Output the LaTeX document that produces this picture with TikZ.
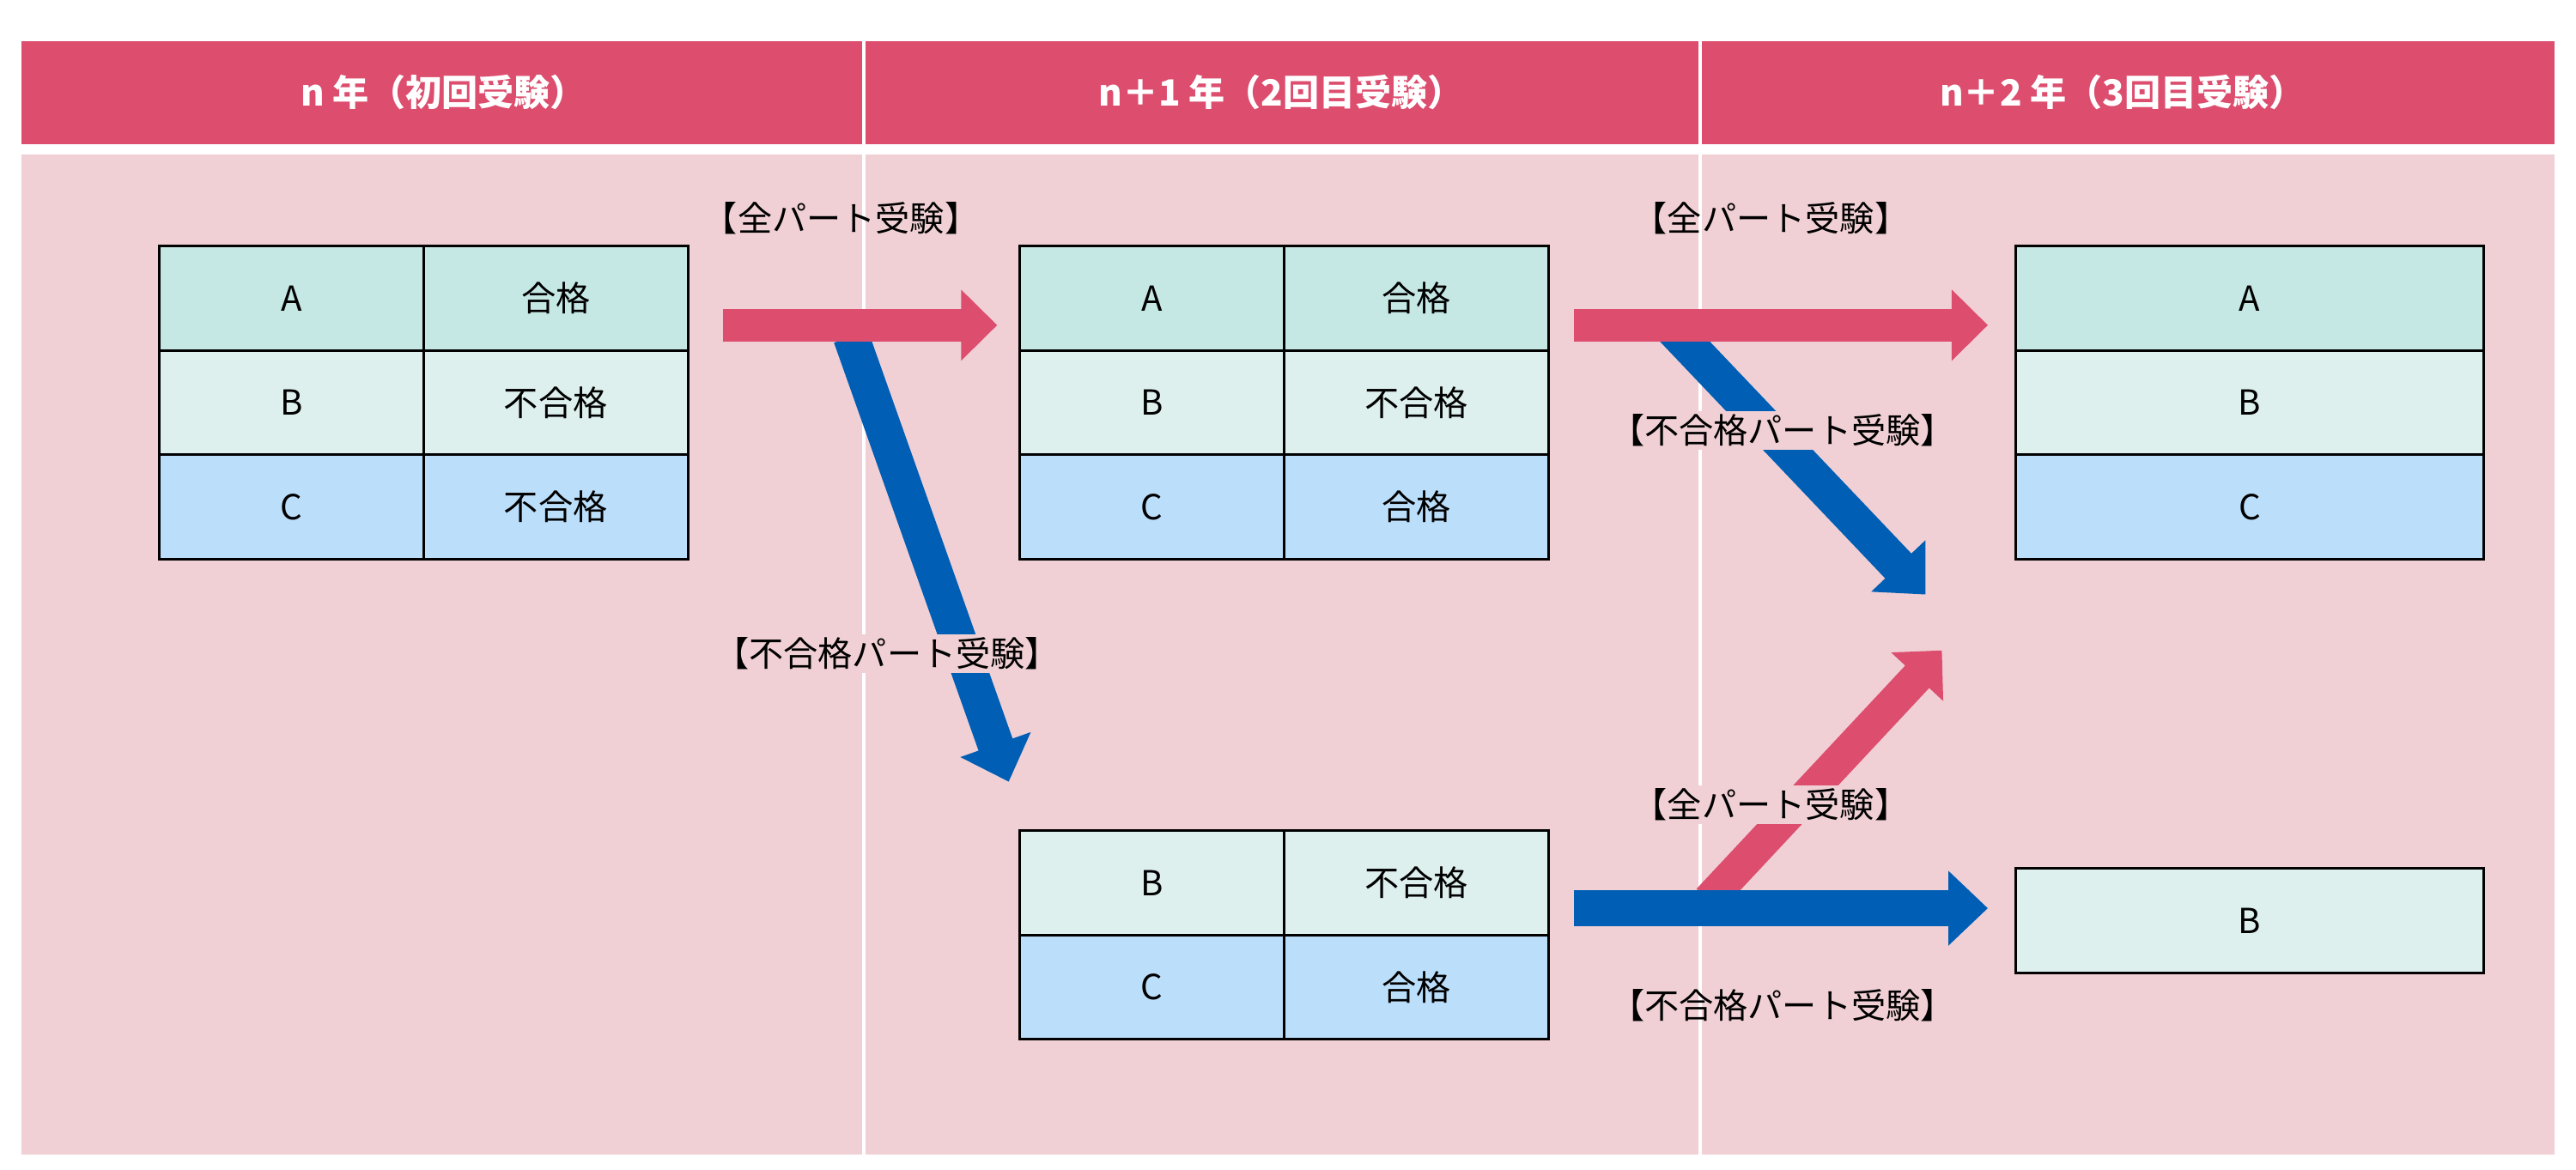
\documentclass[tikz,border=0pt]{standalone}
\usepackage{fontspec}
\setmainfont{Noto Sans CJK JP}
\usetikzlibrary{arrows.meta}
\definecolor{hd}{HTML}{DC4D6E}
\definecolor{bg}{HTML}{F0D0D5}
\definecolor{ca}{HTML}{C5E8E5}
\definecolor{cb}{HTML}{DDF0EE}
\definecolor{cc}{HTML}{BBDEFB}
\definecolor{ar}{HTML}{DC4D6E}
\definecolor{ab}{HTML}{005EB4}
\begin{document}
\begin{tikzpicture}[x=1pt,y=-1pt,
  cell/.style={draw=black,line width=1.6pt,anchor=north west,inner sep=0,minimum height=63.5pt,font=\fontsize{21}{24}\selectfont},
  hdr/.style={text=white,font=\bfseries\fontsize{22}{26}\selectfont},
  lbl/.style={fill=bg,inner sep=2pt,font=\fontsize{21}{24}\selectfont},
  pa/.style={draw=ar,line width=20pt,-{Triangle[width=42pt,length=22pt]}},
  ba/.style={draw=ab,line width=22pt,-{Triangle[width=44pt,length=24pt]}}]
\useasboundingbox (0,0) rectangle (1568,712);
\fill[white] (0,0) rectangle (1568,712);
\fill[hd] (13,25) rectangle (1555,88);
\fill[bg] (13,94) rectangle (1555,703);
\draw[white,line width=2pt] (526,25) -- (526,703);
\draw[white,line width=2pt] (1035,25) -- (1035,703);
\node[hdr] (h1) at (270,56) {n 年（初回受験）};
\node[hdr] (h2) at (780,56) {n＋1 年（2回目受験）};
\node[hdr] (h3) at (1292,56) {n＋2 年（3回目受験）};
% table 1
\node[cell,fill=ca,minimum width=161pt] (a1) at (96,149) {A};
\node[cell,fill=ca,minimum width=161pt] (a2) at (257,149) {合格};
\node[cell,fill=cb,minimum width=161pt] (b1) at (96,212.5) {B};
\node[cell,fill=cb,minimum width=161pt] (b2) at (257,212.5) {不合格};
\node[cell,fill=cc,minimum width=161pt] (c1) at (96,276) {C};
\node[cell,fill=cc,minimum width=161pt] (c2) at (257,276) {不合格};
% table 2
\node[cell,fill=ca,minimum width=161pt] (d1) at (620,149) {A};
\node[cell,fill=ca,minimum width=161pt] (d2) at (781,149) {合格};
\node[cell,fill=cb,minimum width=161pt] (e1) at (620,212.5) {B};
\node[cell,fill=cb,minimum width=161pt] (e2) at (781,212.5) {不合格};
\node[cell,fill=cc,minimum width=161pt] (f1) at (620,276) {C};
\node[cell,fill=cc,minimum width=161pt] (f2) at (781,276) {合格};
% table 3
\node[cell,fill=cb,minimum width=161pt] (g1) at (620,505) {B};
\node[cell,fill=cb,minimum width=161pt] (g2) at (781,505) {不合格};
\node[cell,fill=cc,minimum width=161pt] (k1) at (620,568.5) {C};
\node[cell,fill=cc,minimum width=161pt] (k2) at (781,568.5) {合格};
% table 4
\node[cell,fill=ca,minimum width=285pt] (m1) at (1226,149) {A};
\node[cell,fill=cb,minimum width=285pt] (m2) at (1226,212.5) {B};
\node[cell,fill=cc,minimum width=285pt] (m3) at (1226,276) {C};
% table 5
\node[cell,fill=cb,minimum width=285pt] (n1) at (1226,528) {B};
% arrow endpoints
\coordinate (p1s) at (440,198); \coordinate (p1e) at (607,198);
\coordinate (b1s) at (518,205); \coordinate (b1e) at (614,476);
\coordinate (p2s) at (958,198); \coordinate (p2e) at (1210,198);
\coordinate (b2s) at (1018,200); \coordinate (b2e) at (1172,362);
\coordinate (p3s) at (1040,548); \coordinate (p3e) at (1182,396);
\coordinate (b3s) at (958,553); \coordinate (b3e) at (1210,553);
\draw[ba] (b1s) -- (b1e);
\draw[pa] (p1s) -- (p1e);
\draw[ba] (b2s) -- (b2e);
\draw[pa] (p2s) -- (p2e);
\draw[pa] (p3s) -- (p3e);
\draw[ba] (b3s) -- (b3e);
\node[font=\fontsize{21}{24}\selectfont] (l1) at (512,133) {【全パート受験】};
\node[lbl] (l2) at (540,398) {【不合格パート受験】};
\node[font=\fontsize{21}{24}\selectfont] (l3) at (1078,133) {【全パート受験】};
\node[lbl] (l4) at (1085,262) {【不合格パート受験】};
\node[lbl] (l5) at (1078,490) {【全パート受験】};
\node[font=\fontsize{21}{24}\selectfont] (l6) at (1085,612) {【不合格パート受験】};
\end{tikzpicture}
\end{document}
